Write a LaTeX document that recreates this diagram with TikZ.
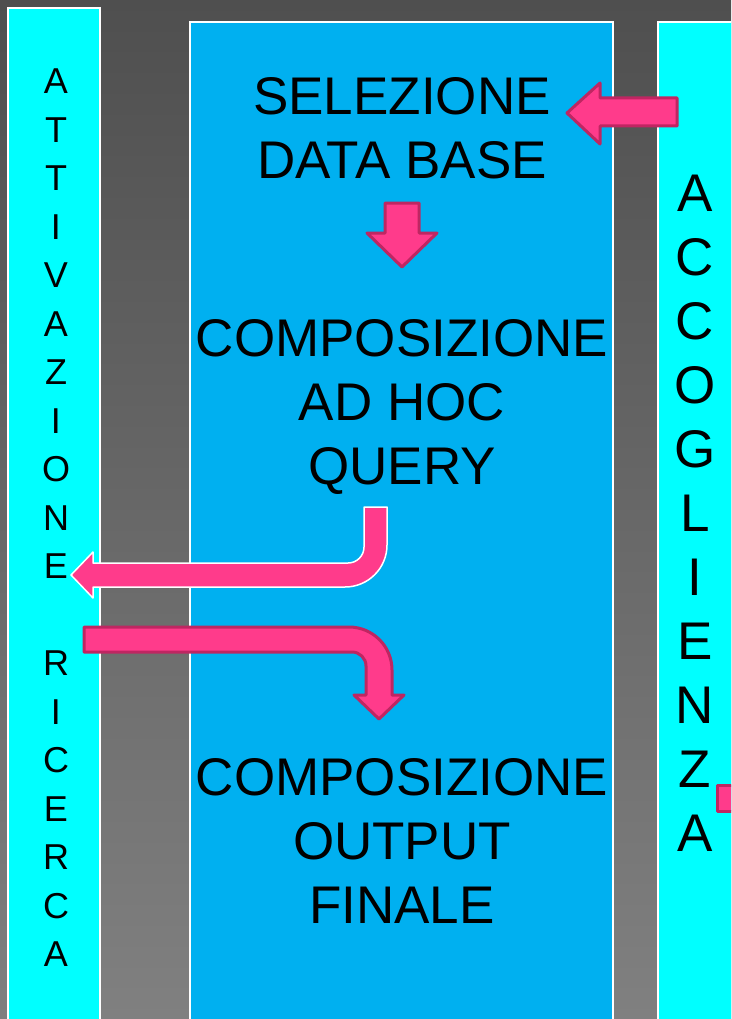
\documentclass[tikz,border=0pt]{standalone}
\usepackage{fontspec}
\setmainfont{Liberation Sans}
\usepackage{xcolor}
\usetikzlibrary{positioning}
\definecolor{sidecol}{HTML}{00FFFF}
\definecolor{maincol}{HTML}{00B0F0}
\definecolor{arrfill}{HTML}{FF3B8B}
\definecolor{arrline}{HTML}{BF2662}
\definecolor{bgtop}{HTML}{4F4F4F}
\definecolor{bgbot}{HTML}{808080}

\begin{document}
\begin{tikzpicture}[x=1pt, y=-1pt,
  colbox/.style={draw=white, line width=1.5pt},
  blockarr/.style={fill=arrfill, draw=arrline, line width=3pt, line join=round},
  whitearr/.style={fill=arrfill, draw=white, line width=1.5pt, line join=round},
  bigtxt/.style={anchor=north, inner sep=0pt, align=center,
              font=\fontsize{53}{64}\selectfont},
  smalltxt/.style={anchor=north, inner sep=0pt, align=center,
              font=\fontsize{36}{48.5}\selectfont}
]
\clip (0,0) rectangle (731,1019);
\shade[top color=bgtop, bottom color=bgbot] (0,0) rectangle (731,1019);

% columns
\draw[colbox, fill=sidecol] (8,8) rectangle (100,1040);
\draw[colbox, fill=maincol] (190,22) rectangle (613,1040);
\draw[colbox, fill=sidecol] (658,22) rectangle (760,1040);

% texts
\node[bigtxt] (sel) at (402,77)  {SELEZIONE\\DATA BASE};
\node[bigtxt] (adh) at (402,319) {COMPOSIZIONE\\AD HOC\\QUERY};
\node[bigtxt] (out) at (402,758) {COMPOSIZIONE\\OUTPUT\\FINALE};
\node[smalltxt] (att) at (56,69)
  {A\\T\\T\\I\\V\\A\\Z\\I\\O\\N\\E\\[48.5pt]R\\I\\C\\E\\R\\C\\A};
\node[bigtxt] (acc) at (695,175) {A\\C\\C\\O\\G\\L\\I\\E\\N\\Z\\A};

% arrows
\draw[blockarr] (677,98) -- (600,98) -- (600,83) -- (567,113) -- (600,144)
  -- (600,126) -- (677,126) -- cycle;
\draw[blockarr] (385,203) -- (419,203) -- (419,233) -- (437,233) -- (402,267)
  -- (367,233) -- (385,233) -- cycle;
\draw[whitearr] (364,507) -- (387,507) -- (387,545)
  arc[start angle=0, end angle=-90, radius=42pt] -- (93,587)
  -- (93,598) -- (71,575) -- (93,552) -- (93,563) -- (348,563)
  arc[start angle=-90, end angle=0, radius=16pt] -- cycle;
\draw[blockarr] (84,627) -- (349,627)
  arc[start angle=90, end angle=0, radius=43pt] -- (392,695) -- (404,695)
  -- (379,719) -- (354,695) -- (366,695) -- (366,666)
  arc[start angle=0, end angle=90, radius=14pt] -- (84,652) -- cycle;
\draw[blockarr] (717,785) rectangle (745,811);
\end{tikzpicture}
\end{document}
